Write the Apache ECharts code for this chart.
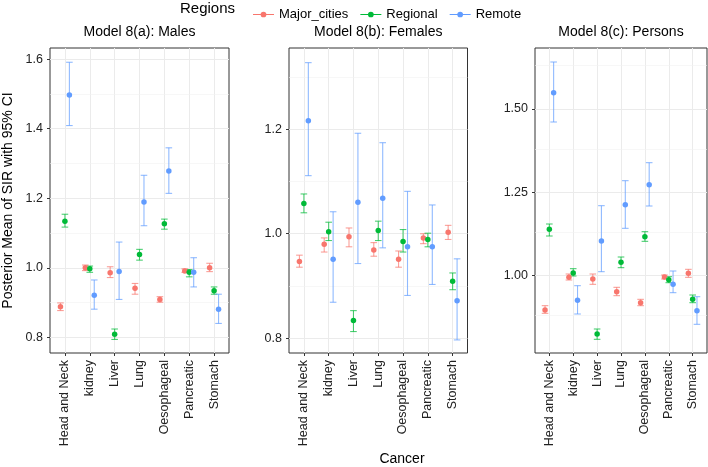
<!DOCTYPE html>
<html><head><meta charset="utf-8">
<script src="https://cdn.jsdelivr.net/npm/echarts@6/dist/echarts.min.js"></script>
<style>html,body{margin:0;padding:0;background:#fff}#c{width:708px;height:467px}</style>
</head><body><div id="c"></div>
<script>
const categories = ['Head and Neck','kidney','Liver','Lung','Oesophageal','Pancreatic','Stomach'];
const regions = ['Major_cities','Regional','Remote'];
const panelTitles = ['Model 8(a): Males','Model 8(b): Females','Model 8(c): Persons'];

// Model 8(a): Males
const malesMajorMean   = [0.888,1.000,0.986,0.941,0.909,0.991,1.000];
const malesMajorLow    = [0.877,0.992,0.972,0.924,0.901,0.987,0.989];
const malesMajorHigh   = [0.899,1.008,1.003,0.955,0.917,0.997,1.013];
const malesRegMean     = [1.134,0.997,0.809,1.038,1.127,0.987,0.934];
const malesRegLow      = [1.117,0.987,0.794,1.022,1.111,0.974,0.924];
const malesRegHigh     = [1.154,1.005,0.824,1.053,1.140,0.995,0.945];
const malesRemMean     = [1.497,0.921,0.989,1.189,1.278,0.987,0.881];
const malesRemLow      = [1.409,0.881,0.909,1.121,1.214,0.945,0.840];
const malesRemHigh     = [1.591,0.965,1.074,1.266,1.345,1.029,0.924];

// Model 8(b): Females
const femalesMajorMean = [0.947,0.980,0.994,0.969,0.951,0.992,1.003];
const femalesMajorLow  = [0.936,0.965,0.975,0.957,0.936,0.981,0.989];
const femalesMajorHigh = [0.959,0.992,1.011,0.983,0.967,1.000,1.016];
const femalesRegMean   = [1.058,1.004,0.834,1.006,0.985,0.989,0.909];
const femalesRegLow    = [1.040,0.987,0.813,0.987,0.965,0.975,0.893];
const femalesRegHigh   = [1.076,1.022,0.853,1.024,1.008,1.001,0.925];
const femalesRemMean   = [1.216,0.951,1.060,1.068,0.975,0.975,0.872];
const femalesRemLow    = [1.111,0.869,0.943,0.973,0.882,0.903,0.797];
const femalesRemHigh   = [1.327,1.042,1.192,1.174,1.081,1.055,0.952];

// Model 8(c): Persons
const personsMajorMean = [0.897,0.995,0.990,0.952,0.919,0.996,1.007];
const personsMajorLow  = [0.887,0.987,0.974,0.940,0.910,0.990,0.995];
const personsMajorHigh = [0.910,1.005,1.005,0.965,0.929,1.002,1.019];
const personsRegMean   = [1.139,1.008,0.825,1.040,1.117,0.988,0.929];
const personsRegLow    = [1.119,0.999,0.809,1.024,1.103,0.979,0.919];
const personsRegHigh   = [1.155,1.021,0.840,1.056,1.132,0.997,0.942];
const personsRemMean   = [1.549,0.926,1.104,1.213,1.273,0.974,0.895];
const personsRemLow    = [1.461,0.885,1.012,1.142,1.209,0.949,0.854];
const personsRemHigh   = [1.641,0.970,1.210,1.285,1.339,1.014,0.937];

// Y axis ticks
const malesTicks = [0.8,1.0,1.2,1.4,1.6];
const malesMinor = [0.9,1.1,1.3,1.5];
const femalesTicks = [0.8,1.0,1.2];
const femalesMinor = [0.9,1.1,1.3];
const personsTicks = [1.00,1.25,1.50];
const personsMinor = [0.875,1.125,1.375,1.625];

const colors = ['#F8766D','#00BA38','#619CFF'];
const FONT = 'Liberation Sans, Arial, sans-serif';

const panels = [
  {title: panelTitles[0], left: 50, width: 179, ymin: 0.755, ymax: 1.632, ticks: malesTicks, minor: malesMinor, dec: 1,
   data: [[malesMajorMean,malesMajorLow,malesMajorHigh],[malesRegMean,malesRegLow,malesRegHigh],[malesRemMean,malesRemLow,malesRemHigh]]},
  {title: panelTitles[1], left: 289, width: 178.5, ymin: 0.772, ymax: 1.355, ticks: femalesTicks, minor: femalesMinor, dec: 1,
   data: [[femalesMajorMean,femalesMajorLow,femalesMajorHigh],[femalesRegMean,femalesRegLow,femalesRegHigh],[femalesRemMean,femalesRemLow,femalesRemHigh]]},
  {title: panelTitles[2], left: 535, width: 172, ymin: 0.768, ymax: 1.683, ticks: personsTicks, minor: personsMinor, dec: 2,
   data: [[personsMajorMean,personsMajorLow,personsMajorHigh],[personsRegMean,personsRegLow,personsRegHigh],[personsRemMean,personsRemLow,personsRemHigh]]}
];
const dodge = [-0.18, 0, 0.18];
const catPos = categories.map((c, i) => i + 1);

const grids = [], xAxes = [], yAxes = [], series = [], graphics = [];
panels.forEach((p, k) => {
  grids.push({left: p.left, top: 48, width: p.width, height: 305, show: true, borderColor: '#333', borderWidth: 1, backgroundColor: '#fff'});
  xAxes.push({
    type: 'value', gridIndex: k, min: 0.4, max: 7.6,
    axisLine: {show: false},
    axisTick: {show: true, customValues: catPos, length: 3, lineStyle: {color: '#333'}},
    axisLabel: {customValues: catPos, rotate: 90, fontSize: 12.5, fontFamily: FONT, color: '#222', margin: 7,
      formatter: v => categories[Math.round(v) - 1] || ''},
    splitLine: {show: true, lineStyle: {color: '#ebebeb', width: 1}}
  });
  const y = {
    type: 'value', gridIndex: k, min: p.ymin, max: p.ymax,
    axisLine: {show: false},
    axisTick: {show: true, customValues: p.ticks, length: 3, lineStyle: {color: '#333'}},
    axisLabel: {customValues: p.ticks, fontSize: 12.5, fontFamily: FONT, color: '#222', margin: 7,
      formatter: v => v.toFixed(p.dec)},
    splitLine: {show: true, lineStyle: {color: '#ebebeb', width: 1}}
  };
  if (k === 0) {
    Object.assign(y, {name: 'Posterior Mean of SIR with 95% CI', nameLocation: 'middle', nameGap: 35,
      nameTextStyle: {fontSize: 14, fontFamily: FONT, color: '#000'}});
  }
  yAxes.push(y);
  // minor grid lines
  series.push({
    type: 'line', xAxisIndex: k, yAxisIndex: k, data: [], silent: true, z: 0,
    markLine: {silent: true, symbol: ['none','none'], z: 0, label: {show: false},
      lineStyle: {color: '#f2f2f2', width: 0.6, type: 'solid'},
      emphasis: {disabled: true},
      data: p.minor.map(v => ({yAxis: v}))}
  });
  p.data.forEach((d, r) => {
    const [mean, lo, hi] = d;
    series.push({
      type: 'custom', name: regions[r] + ' CI', xAxisIndex: k, yAxisIndex: k, z: 2, silent: true,
      data: categories.map((c, i) => [catPos[i] + dodge[r], lo[i], hi[i]]),
      encode: {x: 0, y: [1, 2]},
      renderItem: (params, api) => {
        const x = api.value(0);
        const a = api.coord([x, api.value(1)]);
        const b = api.coord([x, api.value(2)]);
        const hw = 3.3;
        const st = {stroke: colors[r], lineWidth: 1.1, opacity: 0.7};
        return {type: 'group', children: [
          {type: 'line', shape: {x1: a[0], y1: a[1], x2: b[0], y2: b[1]}, style: st},
          {type: 'line', shape: {x1: a[0] - hw, y1: a[1], x2: a[0] + hw, y2: a[1]}, style: st},
          {type: 'line', shape: {x1: b[0] - hw, y1: b[1], x2: b[0] + hw, y2: b[1]}, style: st}
        ]};
      }
    });
    series.push({
      type: 'scatter', name: regions[r], xAxisIndex: k, yAxisIndex: k, z: 3,
      symbol: 'circle', symbolSize: 5.5,
      itemStyle: {color: colors[r], opacity: 1},
      data: categories.map((c, i) => [catPos[i] + dodge[r], mean[i]])
    });
  });
  graphics.push({type: 'text', x: p.left + p.width / 2, y: 32, style: {
    text: p.title, font: '14px ' + FONT, fill: '#000', textAlign: 'center', textVerticalAlign: 'middle'}});
});
graphics.push({type: 'text', x: 180, y: 9, style: {text: 'Regions', font: '15px ' + FONT, fill: '#000', textVerticalAlign: 'middle'}});
graphics.push({type: 'text', x: 402, y: 459, style: {text: 'Cancer', font: '14px ' + FONT, fill: '#000', textAlign: 'center', textVerticalAlign: 'middle'}});

const legendIcon = 'path://M0,4.4L22,4.4L22,5.6L0,5.6Z M14,5A3,3 0 1,1 8,5A3,3 0 1,1 14,5Z';

const chart = echarts.init(document.getElementById('c'), null, {renderer: 'canvas'});
chart.setOption({
  animation: false,
  backgroundColor: '#fff',
  grid: grids, xAxis: xAxes, yAxis: yAxes, series: series,
  legend: {data: regions, left: 248, top: 3, itemWidth: 21, itemHeight: 10, itemGap: 12, icon: legendIcon,
    textStyle: {fontSize: 13, fontFamily: FONT, color: '#000'}},
  graphic: graphics
});
</script></body></html>
